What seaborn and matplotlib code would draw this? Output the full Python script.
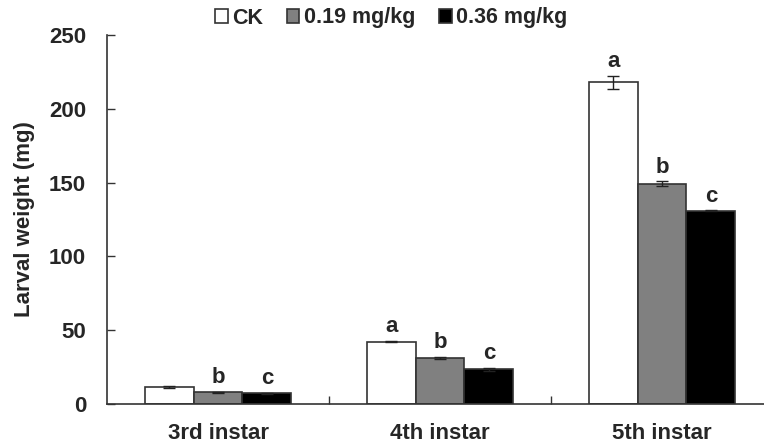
import pandas as pd
import matplotlib
matplotlib.use("Agg")
import matplotlib.pyplot as plt
import seaborn as sns

# data
instars = ["3rd instar", "4th instar", "5th instar"]
treatments = ["CK", "0.19 mg/kg", "0.36 mg/kg"]
ck_mean = [11.5, 42.3, 218.0]
low_mean = [7.8, 31.2, 149.3]
high_mean = [7.2, 23.4, 130.8]
ck_err = [0.5, 0.6, 4.3]
low_err = [0.3, 0.6, 1.5]
high_err = [0.3, 0.8, 0.3]
ck_letters = ["", "a", "a"]
low_letters = ["b", "b", "b"]
high_letters = ["c", "c", "c"]

sns.set_style("ticks")
plt.rcParams["font.family"] = ["Liberation Sans", "DejaVu Sans"]
plt.rcParams["font.weight"] = "bold"

rows = []
for t, means, errs, letters in zip(treatments,
                                   [ck_mean, low_mean, high_mean],
                                   [ck_err, low_err, high_err],
                                   [ck_letters, low_letters, high_letters]):
    for inst, m, e, l in zip(instars, means, errs, letters):
        rows.append({"instar": inst, "treatment": t, "weight": m, "err": e, "letter": l})
df = pd.DataFrame(rows)

fig = plt.figure(figsize=(7.64, 4.45), dpi=100)
ax = fig.add_axes([107 / 764, 41 / 445, 666 / 764, 369 / 445])

sns.barplot(data=df, x="instar", y="weight", hue="treatment", order=instars,
            hue_order=treatments, palette=["white", "#808080", "black"],
            width=0.66, edgecolor="#333333", linewidth=1.2, errorbar=None,
            ax=ax)

# error bars and significance letters on each bar
bars = [p for p in ax.patches if p.get_height() > 0][:len(df)]
for bar, (_, r) in zip(bars, df.iterrows()):
    xc = bar.get_x() + bar.get_width() / 2
    ax.errorbar(xc, r["weight"], yerr=r["err"], fmt="none", ecolor="#222222",
                elinewidth=1.0, capsize=4, capthick=1.0)
    if r["letter"]:
        ax.text(xc, r["weight"] + r["err"] + 6, r["letter"], ha="center",
                va="baseline", fontsize=16, fontweight="bold")

ax.set_ylim(0, 250)
ax.set_xlim(-0.5, 2.5)
ax.set_yticks([0, 50, 100, 150, 200, 250])
ax.set_xlabel("")
ax.set_ylabel("Larval weight (mg)", fontsize=16, fontweight="bold", labelpad=10)
ax.tick_params(axis="y", direction="in", length=6, width=1, color="#333333",
               labelsize=16, pad=15)
ax.tick_params(axis="x", which="major", length=0, labelsize=16, pad=14)
ax.set_xticks([0.5, 1.5], minor=True)
ax.tick_params(axis="x", which="minor", direction="in", length=6, width=1,
               color="#333333")
for lab in ax.get_xticklabels() + ax.get_yticklabels():
    lab.set_fontweight("bold")

sns.despine(ax=ax)
for s in ["left", "bottom"]:
    ax.spines[s].set_color("#333333")
    ax.spines[s].set_linewidth(1.2)

handles, labels = ax.get_legend_handles_labels()
ax.legend(handles, labels, ncol=3, frameon=False, loc="center",
          bbox_to_anchor=(391 / 764, 1 - 18 / 445), bbox_transform=fig.transFigure,
          prop={"weight": "bold", "size": 15.5}, handlelength=0.6,
          handleheight=0.6, handletextpad=0.2, columnspacing=1.1)

fig.savefig("out.png", dpi=100)
